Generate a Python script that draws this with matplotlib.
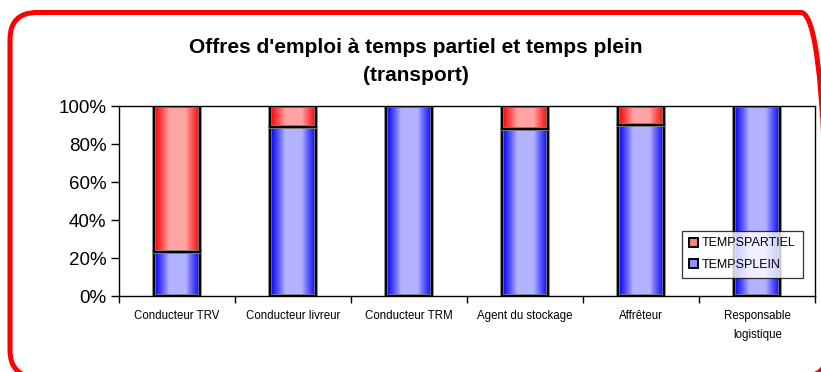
import matplotlib
matplotlib.use("Agg")
import matplotlib.pyplot as plt
import numpy as np
from matplotlib.patches import FancyBboxPatch, Rectangle
from matplotlib.colors import LinearSegmentedColormap
import matplotlib.patheffects as pe

plt.rcParams['font.family'] = ['Liberation Sans', 'DejaVu Sans']

# Share of job offers per post (percent)
categories = ["Conducteur TRV", "Conducteur livreur", "Conducteur TRM",
              "Agent du stockage", "Affrêteur", "Responsable\nlogistique"]
temps_plein = [23, 89, 100, 88, 90, 100]
temps_partiel = [77, 11, 0, 12, 10, 0]
y_ticks = [0, 20, 40, 60, 80, 100]
series_names = ["TEMPSPLEIN", "TEMPSPARTIEL"]


def shaded_cmap(dark, light):
    # horizontal cylinder-like shading: dark at edges, light in the middle
    t = np.linspace(0, 1, 64)
    f = np.clip((1 - np.abs(2 * t - 1)) / 0.65, 0, 1) ** 1.1
    dark, light = np.array(dark), np.array(light)
    cols = [tuple(dark + (light - dark) * v) for v in f]
    return LinearSegmentedColormap.from_list("shade", cols)


blue_cmap = shaded_cmap((0.0, 0.0, 1.0), (0.70, 0.70, 1.0))
red_cmap = shaded_cmap((1.0, 0.0, 0.0), (1.0, 0.64, 0.64))

fig = plt.figure(figsize=(8.21, 3.72), dpi=100)
ax = fig.add_axes([0.145, 0.204, 0.848, 0.511])

x = np.arange(len(categories))
width = 0.4
grad = np.linspace(0, 1, 64).reshape(1, -1)

bars_plein = ax.bar(x, temps_plein, width, color="#b0b0ff", edgecolor="black",
                    linewidth=1.2, label=series_names[0])
bars_partiel = ax.bar(x, temps_partiel, width, bottom=temps_plein, color="#ffa0a0",
                      edgecolor="black", linewidth=1.2, label=series_names[1])

for bars, cmap in ((bars_plein, blue_cmap), (bars_partiel, red_cmap)):
    for b in bars:
        if b.get_height() <= 0:
            continue
        x0, y0 = b.get_x(), b.get_y()
        w, h = b.get_width(), b.get_height()
        im = ax.imshow(grad, cmap=cmap, aspect="auto", extent=(x0, x0 + w, y0, y0 + h),
                       zorder=b.get_zorder() - 0.1, interpolation="bilinear")
        im.set_clip_path(b)
        b.set_facecolor("none")
        b.set_path_effects([pe.withStroke(linewidth=2.6, foreground="#7a7a7a"), pe.Normal()])

ax.set_xlim(-0.5, len(categories) - 0.5)
ax.set_ylim(0, 100)
ax.set_yticks(y_ticks)
ax.set_yticklabels([f"{v}%" for v in y_ticks], fontsize=13.5)
ax.set_xticks(x)
ax.set_xticklabels(categories, fontsize=8.3, linespacing=1.75)
ax.set_xticks(np.arange(len(categories) + 1) - 0.5, minor=True)
ax.tick_params(axis="x", which="major", length=0, pad=10)
ax.tick_params(axis="x", which="minor", length=5, direction="out", width=1)
ax.tick_params(axis="y", length=6, width=1, pad=3)
for s in ax.spines.values():
    s.set_linewidth(1.0)

handles = [Rectangle((0, 0), 1, 1, facecolor="#ff8080", edgecolor="black", linewidth=1.4),
           Rectangle((0, 0), 1, 1, facecolor="#9090ff", edgecolor="black", linewidth=1.4)]
leg = ax.legend(handles, [series_names[1], series_names[0]], loc="lower right",
                bbox_to_anchor=(0.991, 0.064), fontsize=9, frameon=True, fancybox=False,
                edgecolor="black", handlelength=0.75, handleheight=0.75, handletextpad=0.3,
                borderpad=0.55, labelspacing=0.75)
leg.get_frame().set_linewidth(0.9)

fig.text(0.507, 0.873, "Offres d'emploi à temps partiel et temps plein",
         ha="center", va="center", fontsize=15, fontweight="bold")
fig.text(0.507, 0.798, "(transport)", ha="center", va="center",
         fontsize=15, fontweight="bold")

# rounded red border around the chart
frame = FancyBboxPatch((0.10, -0.05), 8.18, 3.645,
                       boxstyle="round,pad=0,rounding_size=0.27",
                       transform=fig.dpi_scale_trans, facecolor="none",
                       edgecolor="#ff0000", linewidth=3.6)
fig.patches.append(frame)

fig.savefig("out.png", dpi=100)
